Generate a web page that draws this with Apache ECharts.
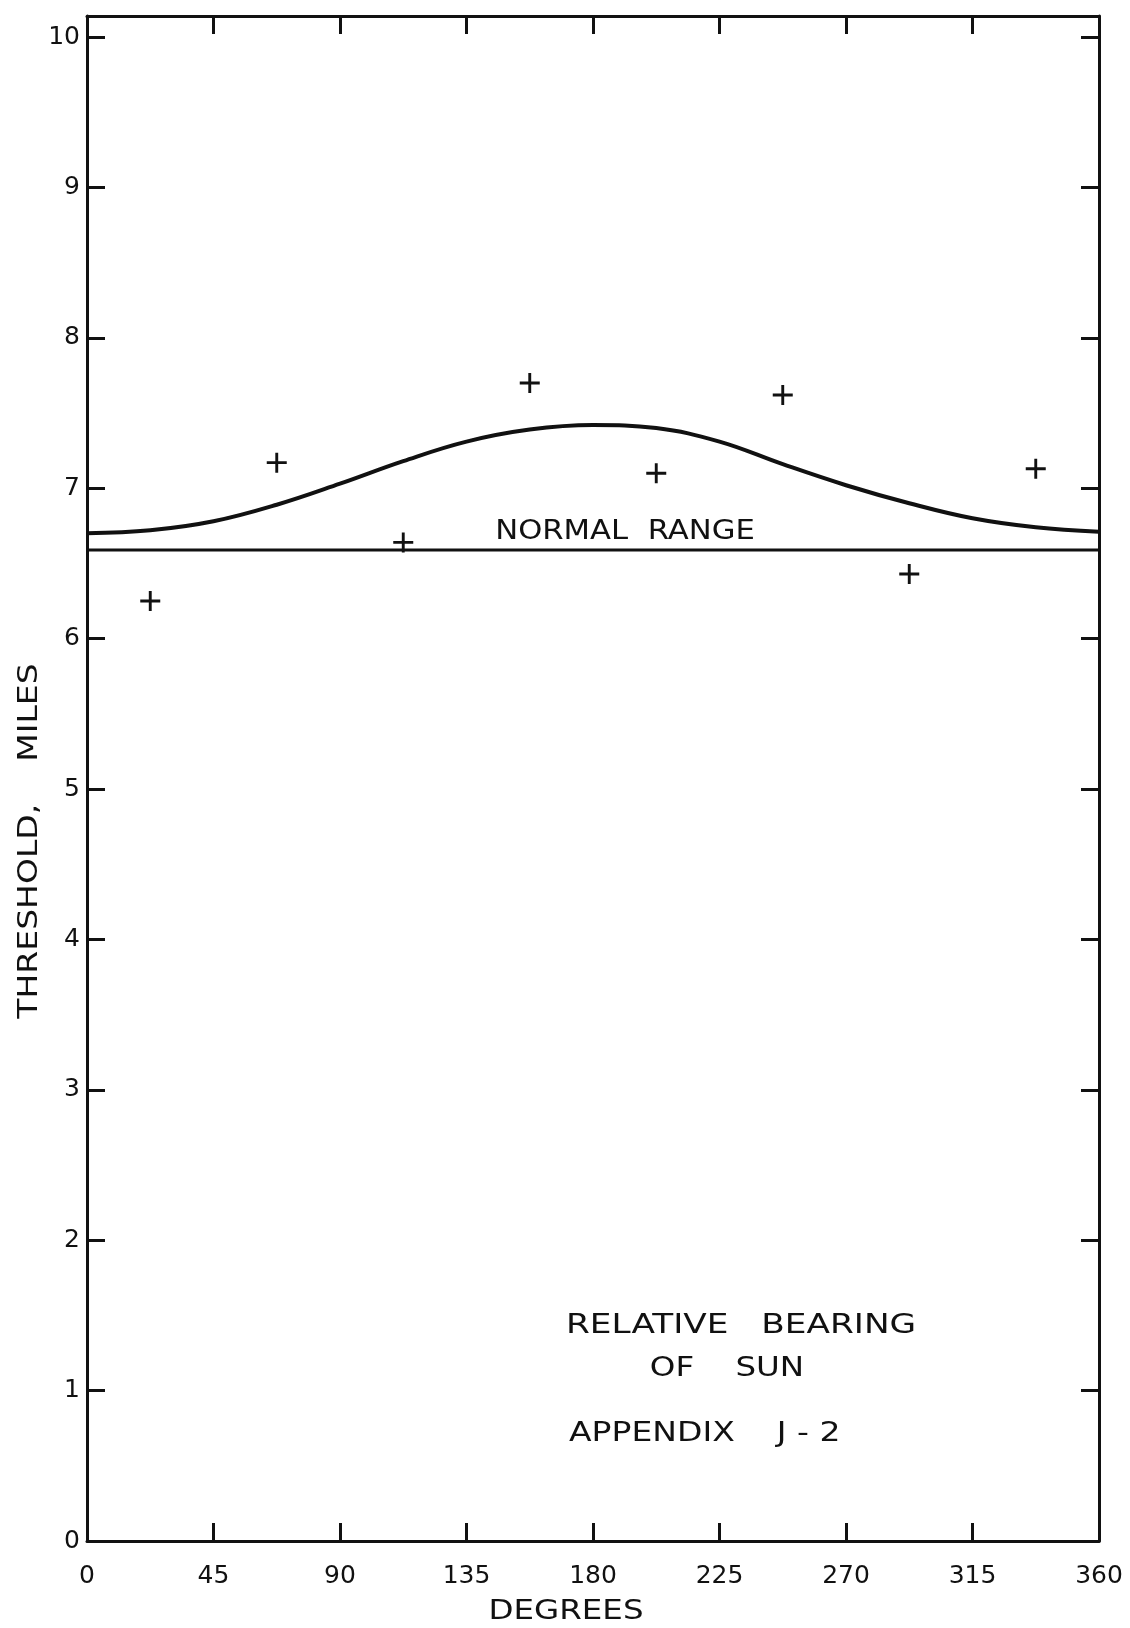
<!DOCTYPE html>
<html>
<head>
<meta charset="utf-8">
<script src="https://cdn.jsdelivr.net/npm/echarts@6/dist/echarts.min.js"></script>
<style>
  html, body { margin: 0; padding: 0; background: #fff; }
  #chart { width: 1130px; height: 1628px; }
</style>
</head>
<body>
<div id="chart"></div>
<script>
// Bearing (degrees) of the plotted observations
var obsBearing = [22.5, 67.5, 112.5, 157.5, 202.5, 247.5, 292.5, 337.5];
// Threshold (miles) of the plotted observations
var obsThreshold = [6.25, 7.17, 6.64, 7.70, 7.10, 7.62, 6.43, 7.13];

// Smooth curve (upper bound of normal range)
var curveBearing = [0, 22.5, 45, 67.5, 90, 112.5, 135, 157.5, 180, 202.5, 225, 247.5, 270, 292.5, 315, 337.5, 360];
var curveThreshold = [6.70, 6.72, 6.78, 6.89, 7.03, 7.18, 7.31, 7.39, 7.42, 7.40, 7.31, 7.16, 7.02, 6.90, 6.80, 6.74, 6.71];

// Lower limit of normal range
var normalLowBearing = [0, 360];
var normalLowThreshold = [6.59, 6.59];

var xTicks = [0, 45, 90, 135, 180, 225, 270, 315, 360];
var yTicks = [0, 1, 2, 3, 4, 5, 6, 7, 8, 9, 10];

var FONT = 'DejaVu Sans';
var INK = '#111';

function pairs(xs, ys) { return xs.map(function (x, i) { return [x, ys[i]]; }); }

var plusPath = 'path://M-1.3,-9 L1.3,-9 L1.3,-1.3 L9,-1.3 L9,1.3 L1.3,1.3 L1.3,9 L-1.3,9 L-1.3,1.3 L-9,1.3 L-9,-1.3 L-1.3,-1.3 Z';

var chart = echarts.init(document.getElementById('chart'));
var axisCommon = {
  type: 'value',
  axisLine: { show: true, onZero: false, lineStyle: { color: INK, width: 3 } },
  axisTick: { show: true, inside: true, length: 18, lineStyle: { color: INK, width: 3 } },
  splitLine: { show: false }
};
function txt(x, y, text, size, align, sx, rot) {
  return {
    type: 'text', x: x, y: y, scaleX: sx, rotation: rot || 0,
    style: { text: text, font: size + 'px "DejaVu Sans"', fill: INK, align: align, verticalAlign: 'middle' }
  };
}
chart.setOption({
  backgroundColor: '#fff',
  animation: false,
  grid: { left: 87, right: 31, top: 16, bottom: 87 },
  xAxis: [
    Object.assign({}, axisCommon, {
      position: 'bottom', min: xTicks[0], max: xTicks[xTicks.length - 1], interval: 45,
      axisLabel: { color: INK, fontFamily: FONT, fontSize: 25, margin: 23 }
    }),
    Object.assign({}, axisCommon, {
      position: 'top', min: xTicks[0], max: xTicks[xTicks.length - 1], interval: 45,
      axisLabel: { show: false }
    })
  ],
  yAxis: [
    Object.assign({}, axisCommon, {
      position: 'left', min: yTicks[0], max: 10.14, interval: 1,
      axisLabel: { color: INK, fontFamily: FONT, fontSize: 25, margin: 7, showMaxLabel: false }
    }),
    Object.assign({}, axisCommon, {
      position: 'right', min: yTicks[0], max: 10.14, interval: 1,
      axisLabel: { show: false }
    })
  ],
  series: [
    {
      type: 'line', data: pairs(curveBearing, curveThreshold), smooth: 0.4,
      showSymbol: false, lineStyle: { color: INK, width: 4 }, z: 3
    },
    {
      type: 'line', data: pairs(normalLowBearing, normalLowThreshold),
      showSymbol: false, lineStyle: { color: INK, width: 3 }, z: 3
    },
    {
      type: 'scatter', data: pairs(obsBearing, obsThreshold),
      symbol: plusPath, symbolSize: 20, itemStyle: { color: INK, opacity: 1 }, z: 4
    }
  ],
  graphic: [
    txt(625, 532, 'NORMAL  RANGE', 26, 'center', 1.18),
    txt(566, 1326, 'RELATIVE   BEARING', 26, 'left', 1.32),
    txt(727, 1369, 'OF    SUN', 26, 'center', 1.25),
    txt(569, 1434, 'APPENDIX    J - 2', 26, 'left', 1.27),
    txt(566, 1612, 'DEGREES', 26, 'center', 1.25),
    txt(30, 841, 'THRESHOLD,    MILES', 26, 'center', 1.27, Math.PI / 2)
  ]
});
</script>
</body>
</html>
